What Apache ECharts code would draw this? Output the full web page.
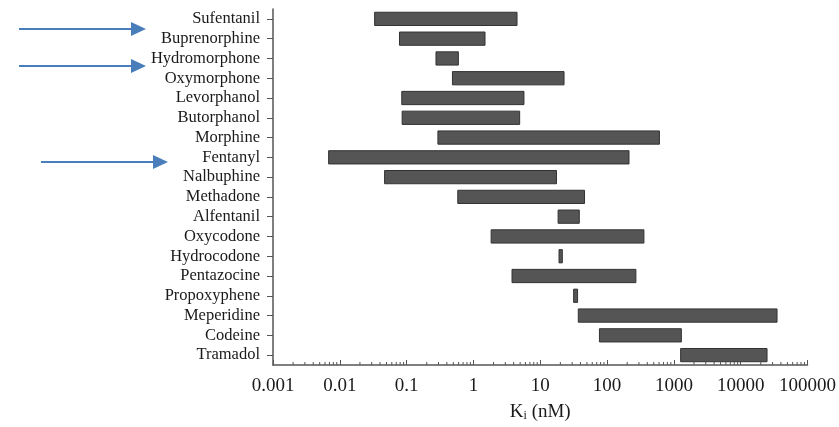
<!DOCTYPE html>
<html>
<head>
<meta charset="utf-8">
<script src="https://cdn.jsdelivr.net/npm/echarts@6/dist/echarts.min.js"></script>
<style>
  html, body { margin: 0; padding: 0; background: #fff; }
  #chart { width: 839px; height: 427px; }
</style>
</head>
<body>
<div id="chart"></div>
<script>
// drugs, top to bottom
const drugs = ['Sufentanil', 'Buprenorphine', 'Hydromorphone', 'Oxymorphone', 'Levorphanol',
  'Butorphanol', 'Morphine', 'Fentanyl', 'Nalbuphine', 'Methadone', 'Alfentanil', 'Oxycodone',
  'Hydrocodone', 'Pentazocine', 'Propoxyphene', 'Meperidine', 'Codeine', 'Tramadol'];
// Ki range (nM), low and high end of each bar
const kiLow  = [0.0332, 0.0782, 0.275, 0.485, 0.0846, 0.0857, 0.294, 0.0068, 0.0468, 0.583,
  18.5, 1.84, 19.1, 3.78, 31.6, 37.1, 76.9, 1262];
const kiHigh = [4.49, 1.49, 0.595, 22.7, 5.70, 4.92, 608, 213, 17.5, 46.0,
  38.4, 356, 21.4, 270, 36.2, 35000, 1294, 24800];
const xTicks = ['0.001', '0.01', '0.1', '1', '10', '100', '1000', '10000', '100000'];

const serif = '"Liberation Serif", "DejaVu Serif", serif';

// log minor ticks (2..9 per decade)
let minorTicks = [];
for (let d = -3; d < 5; d++) {
  for (let m = 2; m <= 9; m++) {
    minorTicks.push([m * Math.pow(10, d), 0]);
  }
}

let rangeData = [];
for (let i = 0; i < drugs.length; i++) {
  rangeData.push([kiLow[i], kiHigh[i], i]);
}

const chart = echarts.init(document.getElementById('chart'), null, {renderer: 'canvas'});

const option = {
  animation: false,
  grid: {left: 273, right: 28, top: 9, bottom: 61, containLabel: false},
  xAxis: {
    type: 'log',
    logBase: 10,
    min: 0.001,
    max: 100000,
    splitLine: {show: false},
    axisLine: {show: true, lineStyle: {color: '#555', width: 1.5}},
    axisTick: {show: true, inside: true, length: 5, lineStyle: {color: '#555'}},
    axisLabel: {
      color: '#1a1a1a', fontFamily: serif, fontSize: 19, margin: 12,
      formatter: function (v) {
        let idx = Math.round(Math.log10(v)) + 3;
        return xTicks[idx] == undefined ? '' : xTicks[idx];
      }
    },
    name: '{a|K}{b|i}{a| (nM)}',
    nameLocation: 'middle',
    nameGap: 37,
    nameTextStyle: {
      rich: {
        a: {fontFamily: serif, fontSize: 19, color: '#1a1a1a', lineHeight: 20},
        b: {fontFamily: serif, fontSize: 12, color: '#1a1a1a', lineHeight: 20, verticalAlign: 'bottom', padding: [8, 0, 0, 0]}
      }
    }
  },
  yAxis: {
    type: 'category',
    data: drugs,
    inverse: true,
    axisLine: {show: true, lineStyle: {color: '#555', width: 1.5}},
    axisTick: {show: true, alignWithLabel: true, interval: 0, length: 6, lineStyle: {color: '#555'}},
    axisLabel: {color: '#1a1a1a', fontFamily: serif, fontSize: 16.5, margin: 13, interval: 0},
    splitLine: {show: false}
  },
  series: [
    {
      type: 'custom',
      name: 'Ki range',
      data: rangeData,
      encode: {x: [0, 1], y: 2},
      renderItem: function (params, api) {
        let cat = api.value(2);
        let start = api.coord([api.value(0), cat]);
        let end = api.coord([api.value(1), cat]);
        let h = api.size([0, 1])[1] * 0.67;
        return {
          type: 'rect',
          shape: {x: start[0], y: start[1] - h / 2, width: end[0] - start[0], height: h},
          style: {fill: '#555555', stroke: '#333333', lineWidth: 1}
        };
      }
    },
    {
      type: 'custom',
      name: 'minor ticks',
      data: minorTicks,
      silent: true,
      clip: false,
      encode: {x: 0, y: 1},
      renderItem: function (params, api) {
        let bottom = params.coordSys.y + params.coordSys.height;
        let x = api.coord([api.value(0), 0])[0];
        return {
          type: 'line',
          shape: {x1: x, y1: bottom, x2: x, y2: bottom - 3},
          style: {stroke: '#555', lineWidth: 1}
        };
      }
    }
  ],
  graphic: [
    {type: 'line', shape: {x1: 19, y1: 29, x2: 133, y2: 29}, style: {stroke: '#4A7EBB', lineWidth: 1.8}},
    {type: 'polygon', shape: {points: [[131, 22], [146, 29], [131, 36]]}, style: {fill: '#4A7EBB'}},
    {type: 'line', shape: {x1: 19, y1: 66, x2: 133, y2: 66}, style: {stroke: '#4A7EBB', lineWidth: 1.8}},
    {type: 'polygon', shape: {points: [[131, 59], [146, 66], [131, 73]]}, style: {fill: '#4A7EBB'}},
    {type: 'line', shape: {x1: 41, y1: 162, x2: 155, y2: 162}, style: {stroke: '#4A7EBB', lineWidth: 1.8}},
    {type: 'polygon', shape: {points: [[153, 155], [168, 162], [153, 169]]}, style: {fill: '#4A7EBB'}}
  ]
};

chart.setOption(option);
</script>
</body>
</html>
